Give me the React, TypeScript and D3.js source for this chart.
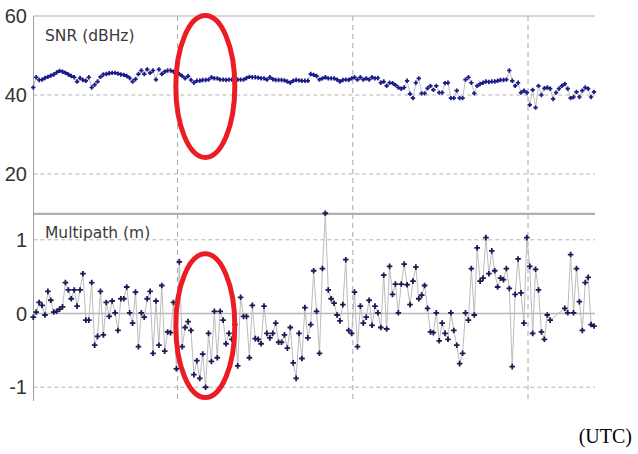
import React from 'react'
import * as d3 from 'd3'

// sampling: one epoch every 30 s, time in minutes
const sampleStart = 5.3
const sampleStep = 0.5
const gridTimes = [30, 60, 90]

const snrTicks = [60, 40, 20]
const mpTicks = [1, 0, -1]

const snr = [
	41.9, 44.5, 43.8, 43.9, 44.3, 44.6, 44.9, 45.2, 45.7, 46.1,
	45.9, 45.6, 45.2, 44.8, 44.5, 43.4, 44.3, 43.8, 43.6, 44.5,
	41.9, 42.6, 43.4, 44.6, 45.2, 45.3, 45.5, 45.6, 45.6, 45.4,
	45.2, 45.1, 44.8, 44.3, 43.4, 44.0, 45.3, 46.2, 45.3, 46.5,
	45.6, 46.2, 43.9, 46.5, 45.3, 45.9, 46.2, 46.2, 45.9, 45.6,
	45.3, 44.8, 44.2, 44.8, 43.8, 43.1, 43.6, 43.6, 43.8, 43.8,
	43.9, 44.5, 44.2, 44.2, 43.9, 43.9, 43.8, 43.9, 43.9, 43.8,
	43.9, 43.9, 43.9, 44.3, 44.6, 44.5, 44.5, 44.4, 44.2, 44.2,
	43.9, 44.5, 44.0, 43.8, 43.8, 43.8, 43.7, 43.4, 43.1, 43.6,
	43.8, 43.7, 43.6, 43.6, 43.6, 45.3, 45.1, 44.8, 43.9, 44.2,
	44.5, 44.2, 44.2, 44.2, 43.9, 43.4, 43.8, 43.9, 43.8, 44.2,
	44.5, 43.9, 44.5, 43.9, 44.2, 43.9, 44.5, 44.2, 44.3,
	43.1, 43.4, 42.3, 43.1, 43.0, 42.5, 41.9, 41.6, 41.9, 43.6,
	40.3, 39.2, 43.1, 44.2, 40.4, 40.4, 41.7, 42.3, 41.3, 42.3,
	40.6, 40.6, 43.0, 43.1, 39.2, 39.2, 41.1, 39.2, 39.2, 43.9,
	44.5, 43.1, 40.4, 42.3, 42.8, 43.1, 43.4, 43.3, 43.4, 43.4,
	43.6, 43.8, 43.8, 43.9, 46.2, 43.6, 42.3, 43.1, 40.6, 41.1,
	40.6, 37.5, 41.3, 36.8, 42.3, 40.0, 41.7, 41.9, 41.6, 39.0,
	40.6, 41.6, 42.3, 42.8, 41.6, 39.2, 39.5, 40.8, 39.5, 41.1,
	41.9, 41.6, 39.5, 40.8,
]

const multipath = [
	-0.05, 0.02, 0.15, 0.11, -0.02, 0.3, 0.18, 0.02, 0.03, 0.06,
	0.09, 0.42, 0.32, 0.2, 0.32, 0.1, 0.32, 0.54, -0.09, -0.09,
	0.42, -0.43, -0.31, 0.3, -0.29, 0.15, -0.04, 0.17, 0.01, -0.23,
	0.2, 0.2, 0.36, 0.01, -0.13, 0.29, -0.45, 0.01, -0.05, 0.2,
	0.3, -0.54, 0.17, -0.43, 0.38, -0.51, -0.25, -0.26, 0.15, -0.75,
	0.7, -0.45, -0.19, -0.11, -0.23, -0.83, -0.64, -0.88, -0.55, -1.0,
	-0.27, -0.65, 0.03, -0.6, 0.03, -0.09, -0.41, -0.27, -0.35, -0.15,
	-0.71, 0.22, -0.04, -0.04, -0.6, 0.11, -0.34, -0.35, -0.41, 0.1,
	-0.27, -0.33, -0.27, -0.13, -0.39, -0.39, -0.29, -0.47, -0.19, -0.67,
	-0.88, -0.27, -0.61, 0.08, -0.33, -0.15, 0.58, 0.03, -0.54, 0.61,
	1.36, 0.32, 0.2, 0.14, -0.02, -0.1, 0.12, 0.73, -0.23, -0.27,
	0.29, -0.45, 0.1, -0.13, -0.05, 0.18, -0.16, 0.1, 0.01, -0.19,
	0.52, -0.21, 0.64, 0.26, 0.4, 0.01, 0.4, 0.67, 0.39, 0.12,
	0.44, 0.63, 0.2, 0.25, 0.38, 0.07, -0.25, -0.26, 0.01, -0.37,
	-0.13, -0.27, -0.35, 0.01, -0.23, -0.43, -0.68, -0.54, 0.01, -0.09,
	0.61, -0.02, 0.89, 0.44, 0.48, 1.03, 0.54, 0.85, 0.58, 0.36,
	0.48, 0.46, 0.61, 0.34, -0.72, 0.26, 0.74, 0.28, -0.13, 1.03,
	0.64, -0.27, 0.6, 0.32, -0.25, -0.35, -0.02, -0.09, null, null,
	null, null, 0.07, 0.01, 0.8, 0.01, 0.61, 0.16, -0.23, 0.42,
	0.49, -0.15, -0.17,
]

// highlighted window (minutes) and value spans of the red rings
const ringTimes = [29.7, 39.8]
const snrRing = [60.1, 24.2]
const mpRing = [0.81, -1.14]

const W = 638
const H = 454
const left = 33.3
const right = 594
const plotRight = 595

const App = () => {
	const times = snr.map((_, i) => sampleStart + i * sampleStep)
	const x = d3
		.scaleLinear()
		.domain([times[0], times[times.length - 1]])
		.range([left, right])
	const ySnr = d3.scaleLinear().domain([10, 60]).range([213.5, 16])
	const yMp = d3.scaleLinear().domain([-1.18, 1.35]).range([400.5, 214])

	const snrPts = snr.map((v, i) => [times[i], v])
	const mpPts = multipath
		.map((v, i) => [times[i], v])
		.filter(d => d[1] !== null)

	const snrLine = d3
		.line()
		.x(d => x(d[0]))
		.y(d => ySnr(d[1]))
	const mpLine = d3
		.line()
		.x(d => x(d[0]))
		.y(d => yMp(d[1]))

	const cross = (cx, cy, r) =>
		`M${cx - r},${cy}H${cx + r}M${cx},${cy - r}V${cy + r}`

	const ring = (ys, vals) => {
		const x0 = x(ringTimes[0])
		const x1 = x(ringTimes[1])
		const y0 = ys(vals[0])
		const y1 = ys(vals[1])
		return (
			<ellipse
				cx={(x0 + x1) / 2}
				cy={(y0 + y1) / 2}
				rx={(x1 - x0) / 2}
				ry={(y1 - y0) / 2}
				fill='none'
				stroke='#ec1c24'
				strokeWidth={5}
			/>
		)
	}

	const tickFont = { fontFamily: 'Liberation Sans, Arial, sans-serif', fontSize: 20, fill: '#333' }
	const labelFont = { fontFamily: 'DejaVu Sans, Verdana, sans-serif', fontSize: 15.5, fill: '#3a3a3a' }

	return (
		<svg width={W} height={H} style={{ position: 'absolute', left: 0, top: 0, background: '#fff' }}>
			{/* horizontal grid */}
			{snrTicks.filter(t => t !== 60).map(t => (
				<line key={'gs' + t} x1={left} x2={plotRight} y1={ySnr(t)} y2={ySnr(t)}
					stroke='#b4b4b4' strokeDasharray='4,3' />
			))}
			{mpTicks.map(t => (
				<line key={'gm' + t} x1={left} x2={plotRight} y1={yMp(t)} y2={yMp(t)}
					stroke={t === 0 ? '#b8b8b8' : '#b4b4b4'} strokeWidth={t === 0 ? 1.5 : 1}
					strokeDasharray={t === 0 ? null : '4,3'} />
			))}
			{/* vertical grid */}
			{gridTimes.map(t => (
				<line key={'gv' + t} x1={x(t)} x2={x(t)} y1={16} y2={402}
					stroke='#a8a8a8' strokeDasharray='5,4' />
			))}
			{/* frame */}
			<line x1={left} x2={plotRight} y1={16} y2={16} stroke='#b0b0b0' />
			<line x1={left} x2={plotRight} y1={213.8} y2={213.8} stroke='#b0b0b0' strokeWidth={2.2} />
			<line x1={33.5} x2={33.5} y1={16} y2={401} stroke='#a0a0a0' />

			{/* tick labels */}
			{snrTicks.map(t => (
				<text key={'ts' + t} x={27} y={ySnr(t)} dy='0.36em' textAnchor='end' style={tickFont}>{t}</text>
			))}
			{mpTicks.map(t => (
				<text key={'tm' + t} x={27} y={yMp(t)} dy='0.36em' textAnchor='end' style={tickFont}>{t}</text>
			))}

			<text x={45} y={40.5} style={labelFont}>SNR (dBHz)</text>
			<text x={45} y={238} style={labelFont}>Multipath (m)</text>

			{/* SNR series */}
			<path d={snrLine(snrPts)} fill='none' stroke='#c0c0c0' strokeWidth={1} />
			<path
				d={snrPts.map(d => cross(x(d[0]), ySnr(d[1]), 2.2)).join('')}
				fill='none' stroke='#1a1a88' strokeWidth={1.7}
			/>

			{/* Multipath series */}
			<path d={mpLine(mpPts)} fill='none' stroke='#bcbcbc' strokeWidth={1} />
			<path
				d={mpPts.map(d => cross(x(d[0]), yMp(d[1]), 2.8)).join('')}
				fill='none' stroke='#1a1a55' strokeWidth={1.8}
			/>

			{ring(ySnr, snrRing)}
			{ring(yMp, mpRing)}

			<text x={632} y={443} textAnchor='end'
				style={{ fontFamily: 'Liberation Serif, Times New Roman, serif', fontSize: 20, fill: '#000' }}>
				(UTC)
			</text>
		</svg>
	)
}

export default App
